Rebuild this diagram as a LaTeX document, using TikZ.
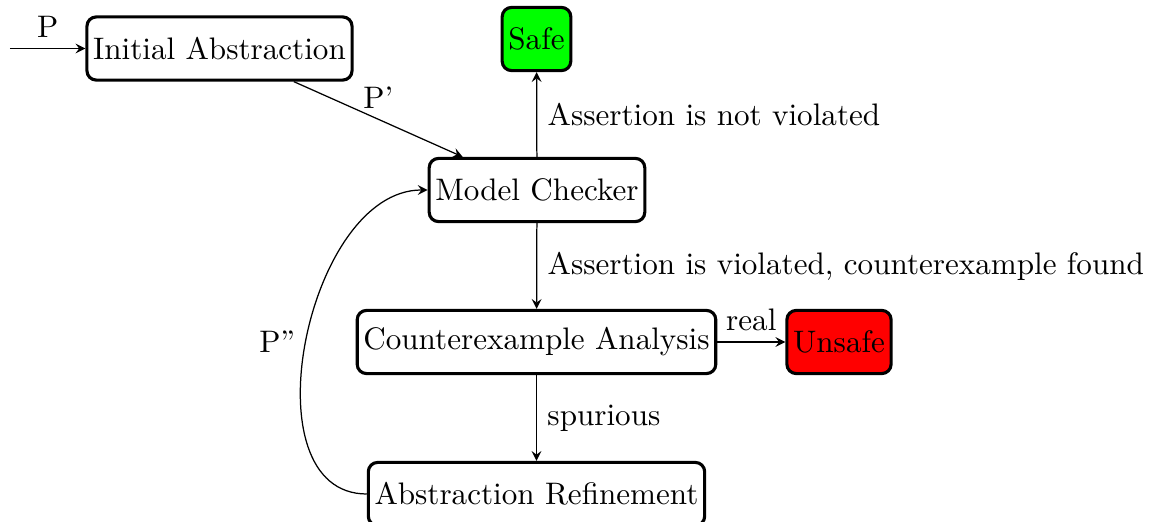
\documentclass[tikz,border=0pt]{standalone}
\usetikzlibrary{arrows}
\begin{document}
\begin{tikzpicture}[x=0.3214pt, y=-0.3214pt, >=stealth,
  stage/.style={draw, line width=1pt, rounded corners=3pt,
                inner xsep=2pt, inner ysep=0pt, minimum height=20.3pt},
  flow/.style={->, line width=0.4pt}]
\useasboundingbox (0,0) rectangle (1157,522);

% stages of the refinement loop
\node[stage] (init) at (219.5,48.5) {Initial Abstraction};
\node[stage, fill={rgb,255:red,0;green,255;blue,0}] (safe) at (536.5,39) {Safe};
\node[stage] (mc) at (537,190) {Model Checker};
\node[stage] (cea) at (536.5,342) {Counterexample Analysis};
\node[stage, fill={rgb,255:red,255;green,0;blue,0}] (unsafe) at (839,342) {Unsafe};
\node[stage] (ar) at (536.5,494) {Abstraction Refinement};

\coordinate (in) at (10,48.5);

% transitions
\draw[flow] (in) -- node[above] {P} (init);
\draw[flow] (init) -- node[above] {P'} (mc);
\draw[flow] (mc) -- node[right] {Assertion is not violated} (safe);
\draw[flow] (mc) -- node[right] {Assertion is violated, counterexample found} (cea);
\draw[flow] (cea) -- node[above] {real} (unsafe);
\draw[flow] (cea) -- node[right] {spurious} (ar);
\draw[flow] (ar.west) to[out=180, in=180] node[left] {P''} (mc.west);
\end{tikzpicture}
\end{document}
